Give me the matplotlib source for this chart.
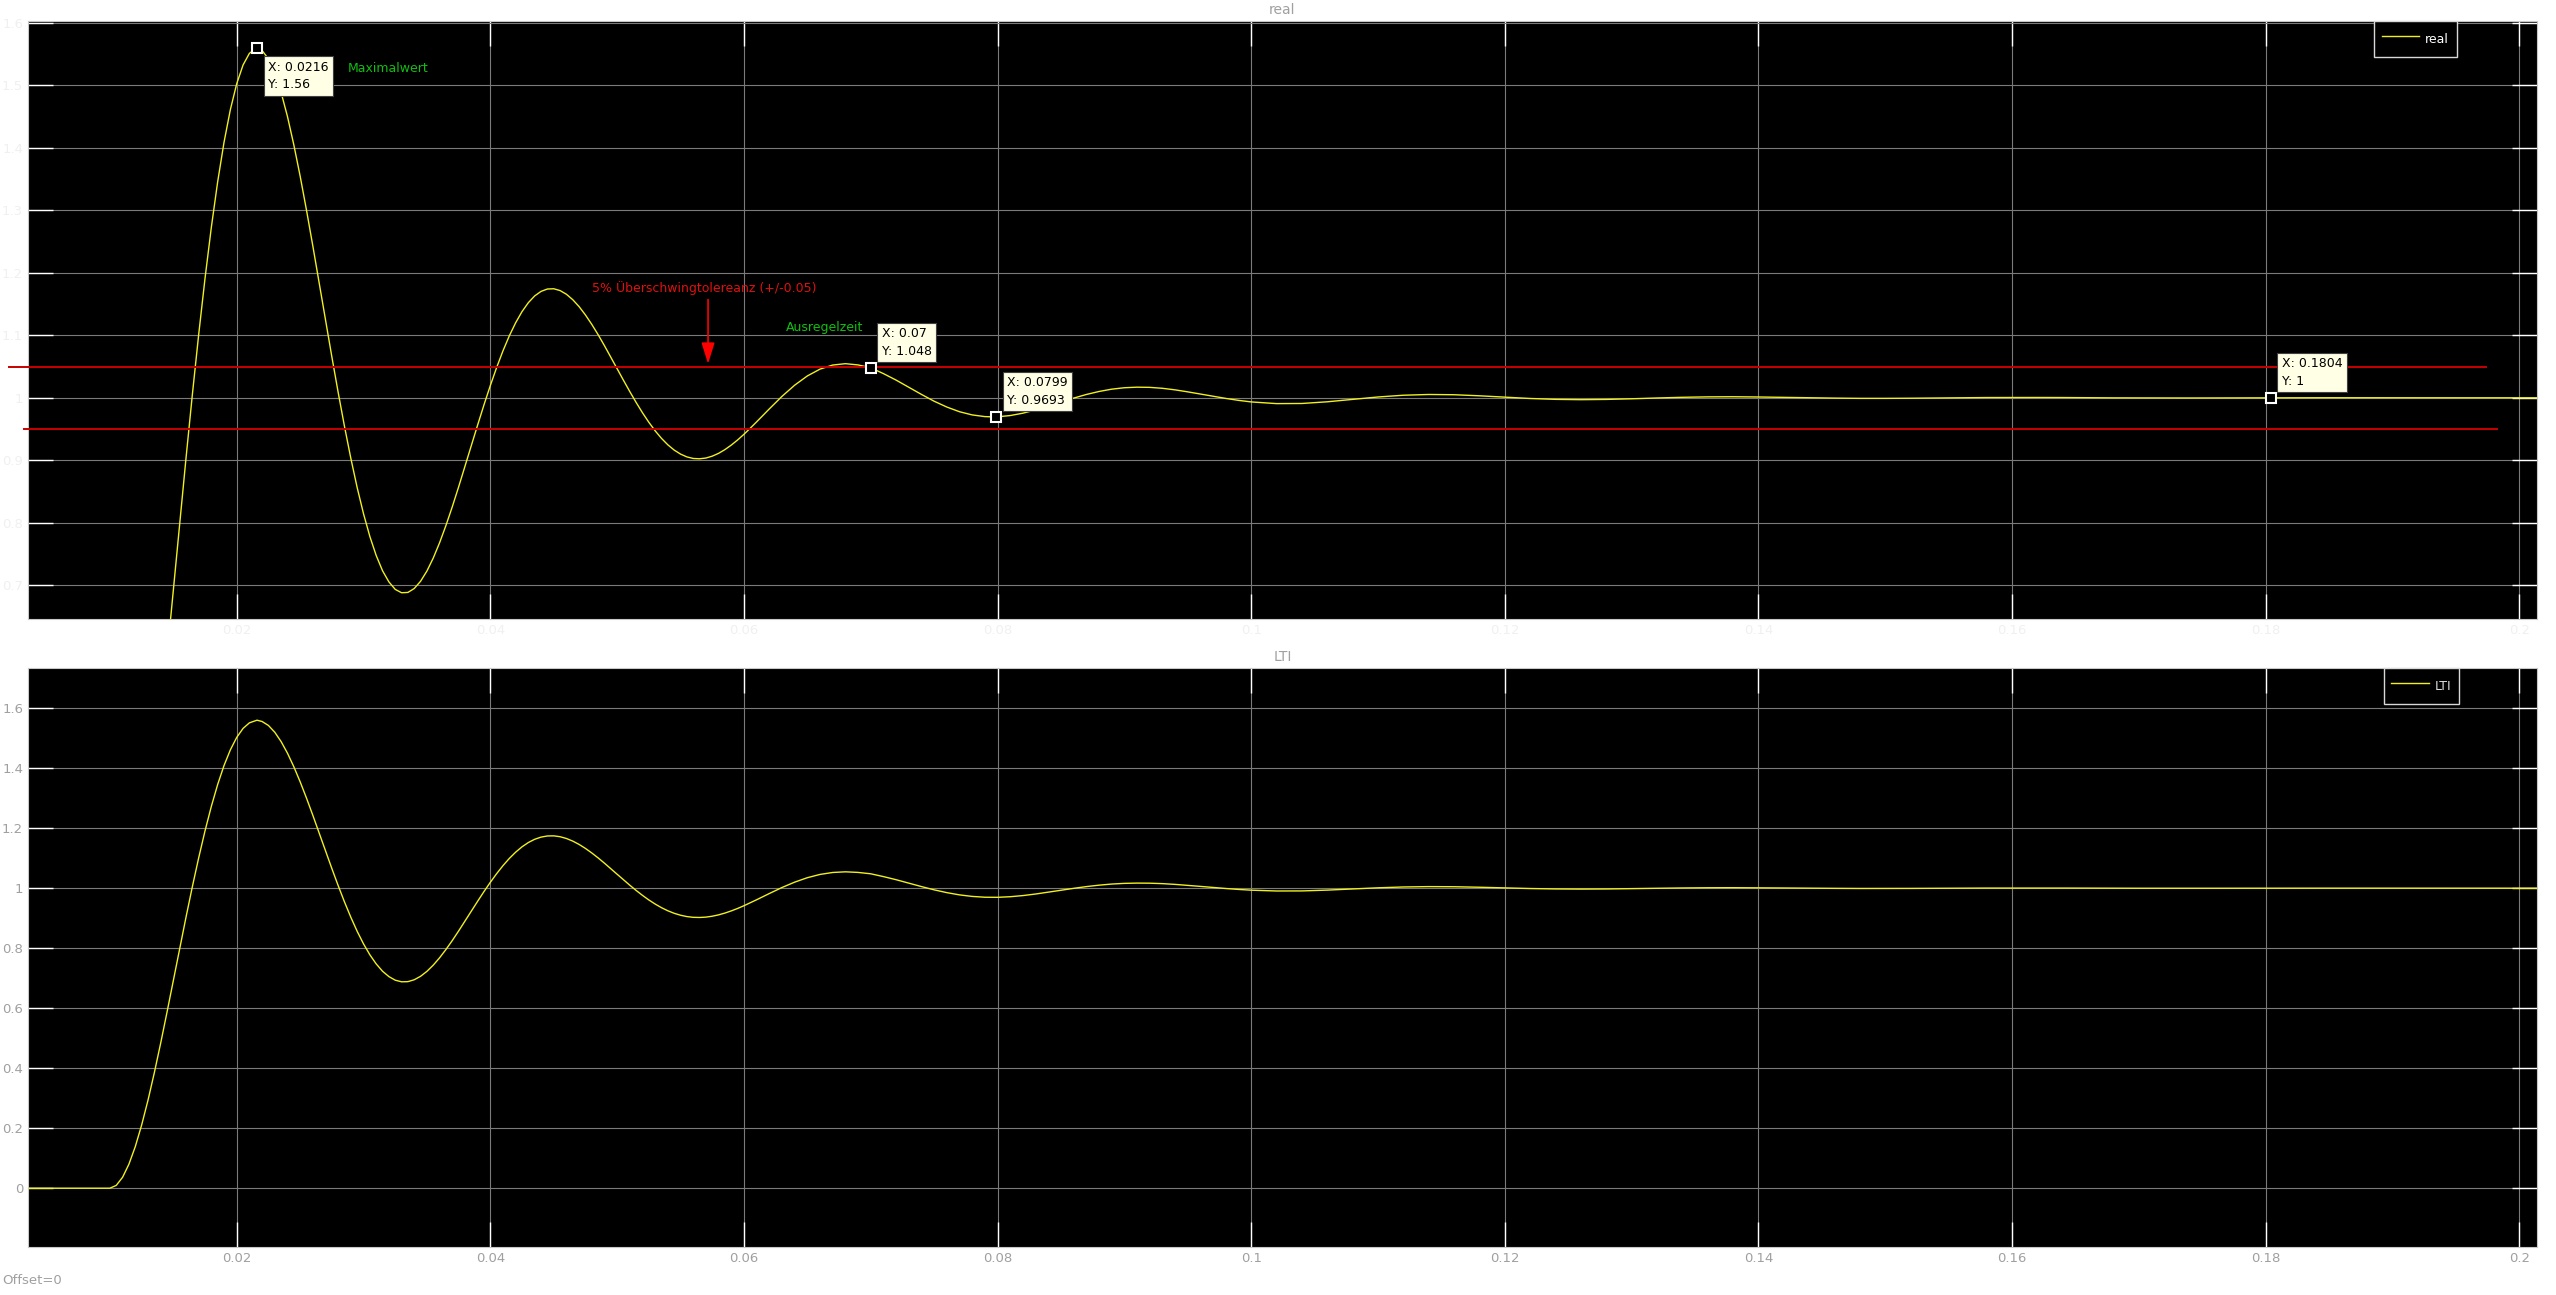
import matplotlib
matplotlib.use("Agg")
import matplotlib.pyplot as plt

# step response (both panels show the same signal)
t = [0.0,
     0.0100, 0.0105, 0.0110, 0.0115, 0.0120, 0.0125, 0.0130, 0.0135, 0.0140, 0.0145,
     0.0150, 0.0155, 0.0160, 0.0165, 0.0170, 0.0175, 0.0180, 0.0185, 0.0190, 0.0195,
     0.0200, 0.0205, 0.0210, 0.0215, 0.0216, 0.0220, 0.0225, 0.0230, 0.0235, 0.0240, 0.0245,
     0.0250, 0.0255, 0.0260, 0.0265, 0.0270, 0.0275, 0.0280, 0.0285, 0.0290, 0.0295,
     0.0300, 0.0305, 0.0310, 0.0315, 0.0320, 0.0325, 0.0330, 0.0335, 0.0340, 0.0345,
     0.0350, 0.0355, 0.0360, 0.0365, 0.0370, 0.0375, 0.0380, 0.0385, 0.0390, 0.0395,
     0.0400, 0.0405, 0.0410, 0.0415, 0.0420, 0.0425, 0.0430, 0.0435, 0.0440, 0.0445,
     0.0450, 0.0455, 0.0460, 0.0465, 0.0470, 0.0475, 0.0480, 0.0485, 0.0490, 0.0495,
     0.0500, 0.0505, 0.0510, 0.0515, 0.0520, 0.0525, 0.0530, 0.0535, 0.0540, 0.0545,
     0.0550, 0.0555, 0.0560, 0.0565, 0.0570, 0.0575, 0.0580, 0.0585, 0.0590, 0.0595,
     0.0600, 0.0605, 0.061, 0.062, 0.063, 0.064, 0.065, 0.066, 0.067, 0.068, 0.069,
     0.070, 0.071, 0.072, 0.073, 0.074, 0.075, 0.076, 0.077, 0.078, 0.079, 0.0799,
     0.080, 0.081, 0.082, 0.083, 0.084, 0.085, 0.086, 0.087, 0.088, 0.089,
     0.090, 0.091, 0.092, 0.093, 0.094, 0.095, 0.096, 0.097, 0.098, 0.099,
     0.100, 0.102, 0.104, 0.106, 0.108, 0.110, 0.112, 0.114, 0.116, 0.118,
     0.120, 0.122, 0.124, 0.126, 0.128, 0.130, 0.132, 0.134, 0.136, 0.138,
     0.140, 0.142, 0.144, 0.146, 0.148, 0.150, 0.152, 0.154, 0.156, 0.158,
     0.160, 0.162, 0.164, 0.166, 0.168, 0.170, 0.172, 0.174, 0.176, 0.178,
     0.180, 0.185, 0.190, 0.195, 0.205]
y_step = [0.0,
          0.0000, 0.0093, 0.0364, 0.0801, 0.1385, 0.2101, 0.2926, 0.3843, 0.4828, 0.5860,
          0.6919, 0.7983, 0.9031, 1.0047, 1.1011, 1.1911, 1.2730, 1.3460, 1.4090, 1.4613,
          1.5026, 1.5326, 1.5512, 1.5588, 1.5600, 1.5557, 1.5425, 1.5199, 1.4888, 1.4503, 1.4052,
          1.3550, 1.3006, 1.2433, 1.1843, 1.1248, 1.0659, 1.0087, 0.9541, 0.9031, 0.8562,
          0.8144, 0.7780, 0.7476, 0.7232, 0.7054, 0.6934, 0.6880, 0.6885, 0.6948, 0.7064,
          0.7228, 0.7436, 0.7681, 0.7957, 0.8256, 0.8574, 0.8902, 0.9235, 0.9565, 0.9888,
          1.0196, 1.0486, 1.0753, 1.0993, 1.1202, 1.1380, 1.1523, 1.1631, 1.1703, 1.1741,
          1.1745, 1.1716, 1.1657, 1.1570, 1.1459, 1.1326, 1.1175, 1.1010, 1.0834, 1.0651,
          1.0465, 1.0280, 1.0099, 0.9925, 0.9760, 0.9608, 0.9471, 0.9350, 0.9247, 0.9163,
          0.9099, 0.9054, 0.9029, 0.9024, 0.9036, 0.9066, 0.9111, 0.9171, 0.9243, 0.9325,
          0.9416, 0.9514, 0.9615, 0.9822, 1.0023, 1.0202, 1.0350, 1.0459, 1.0524, 1.0546, 1.0526,
          1.0480, 1.0387, 1.0283, 1.0169, 1.0054, 0.9945, 0.9852, 0.9777, 0.9726, 0.9699, 0.9693,
          0.9696, 0.9716, 0.9754, 0.9806, 0.9867, 0.9931, 0.9995, 1.0053, 1.0101, 1.0138,
          1.0161, 1.0170, 1.0167, 1.0152, 1.0127, 1.0095, 1.0060, 1.0024, 0.9990, 0.9959,
          0.9934, 0.9907, 0.9909, 0.9936, 0.9974, 1.0013, 1.0041, 1.0053, 1.0049, 1.0032,
          1.0010, 0.9989, 0.9975, 0.9970, 0.9974, 0.9984, 0.9997, 1.0008, 1.0015, 1.0017,
          1.0013, 1.0007, 1.0000, 0.9995, 0.9991, 0.9991, 0.9993, 0.9997, 1.0001, 1.0004,
          1.0005, 1.0005, 1.0004, 1.0001, 0.9999, 0.9998, 0.9997, 0.9997, 0.9998, 0.9999,
          1.0001, 1.0001, 1.0000, 1.0000, 1.0000]

# data tips
tip_x = [0.0216, 0.07, 0.0799, 0.1804]
tip_y = [1.56, 1.048, 0.9693, 1.0]
tip_labels = ["X: 0.0216\nY: 1.56", "X: 0.07\nY: 1.048",
              "X: 0.0799\nY: 0.9693", "X: 0.1804\nY: 1"]

# +/-5% tolerance band lines (drawn as annotation lines)
tol_levels = [1.05, 0.95]
tol_x_start = [0.00205, 0.00323]
tol_x_end = [0.19736, 0.19822]

xticks = [0.02, 0.04, 0.06, 0.08, 0.1, 0.12, 0.14, 0.16, 0.18, 0.2]
xtick_labels = ['0.02', '0.04', '0.06', '0.08', '0.1', '0.12', '0.14', '0.16', '0.18', '0.2']
yticks_real = [0.7, 0.8, 0.9, 1.0, 1.1, 1.2, 1.3, 1.4, 1.5, 1.6]
ytick_labels_real = ['0.7', '0.8', '0.9', '1', '1.1', '1.2', '1.3', '1.4', '1.5', '1.6']
yticks_lti = [0, 0.2, 0.4, 0.6, 0.8, 1.0, 1.2, 1.4, 1.6]
ytick_labels_lti = ['0', '0.2', '0.4', '0.6', '0.8', '1', '1.2', '1.4', '1.6']

LINE = '#f0f020'

fig = plt.figure(figsize=(25.56, 12.95), dpi=100)
fig.patch.set_facecolor('white')
ax1 = fig.add_axes([0.01095, 0.52201, 0.98162, 0.46177])
ax2 = fig.add_axes([0.01095, 0.03707, 0.98162, 0.44710])


def scope_style(ax, label_color):
    ax.set_facecolor('black')
    ax.grid(True, color='#7a7a7a', linewidth=0.8)
    ax.tick_params(direction='in', length=18, width=1, color='white',
                   top=True, right=True, labelsize=9.5, labelcolor=label_color)
    for s in ax.spines.values():
        s.set_color('#c8c8c8')
    ax.set_xlim(0.00354, 0.2014)
    ax.set_xticks(xticks)
    ax.set_xticklabels(xtick_labels)


def scope_legend(ax, right, text_color):
    ax.legend(loc='upper right', bbox_to_anchor=(right, 1.0), borderaxespad=0,
              facecolor='black', edgecolor='#d8d8d8', framealpha=1, fancybox=False,
              fontsize=9, handlelength=3.0, handleheight=2.2, handletextpad=0.5,
              borderpad=0.6, labelcolor=text_color)


# ---- top panel: real
scope_style(ax1, '#f0f0f0')
ax1.plot(t, y_step, color=LINE, lw=1.0, label='real')
ax1.set_ylim(0.646, 1.603)
ax1.set_yticks(yticks_real)
ax1.set_yticklabels(ytick_labels_real)
ax1.set_title('real', color='#a0a0a0', fontsize=10, pad=5)

for lvl, xs, xe in zip(tol_levels, tol_x_start, tol_x_end):
    ax1.plot([xs, xe], [lvl, lvl], color='#c80000', lw=1.4, clip_on=False, zorder=3)

ax1.plot(tip_x, tip_y, 's', ms=7, mfc='black', mec='white', mew=1.5, zorder=6)
for i, (x, yv, lab) in enumerate(zip(tip_x, tip_y, tip_labels)):
    if i == 0:
        off, va = (11, -13), 'top'
    else:
        off, va = (11, 10), 'bottom'
    ax1.annotate(lab, (x, yv), xytext=off, textcoords='offset pixels',
                 ha='left', va=va, fontsize=9, color='black', linespacing=1.45,
                 bbox=dict(boxstyle='square,pad=0.35', fc='#ffffe6', ec='#404040', lw=0.8),
                 zorder=7)

ax1.text(0.02878, 1.527, 'Maximalwert', color='#10c010', fontsize=9, va='center')
ax1.text(0.06332, 1.1117, 'Ausregelzeit', color='#10c010', fontsize=9, va='center')
ax1.text(0.04802, 1.176, '5% Überschwingtolereanz (+/-0.05)', color='#e01010',
         fontsize=9, va='center')
ax1.annotate('', xy=(0.05717, 1.05), xytext=(0.05717, 1.1616),
             arrowprops=dict(arrowstyle='-|>,head_length=0.8,head_width=0.25',
                             color='red', lw=1.2, mutation_scale=16), zorder=5)

scope_legend(ax1, 0.968, 'white')

# ---- bottom panel: LTI
scope_style(ax2, '#a0a0a0')
ax2.plot(t, y_step, color=LINE, lw=1.0, label='LTI')
ax2.set_ylim(-0.196, 1.734)
ax2.set_yticks(yticks_lti)
ax2.set_yticklabels(ytick_labels_lti)
ax2.set_title('LTI', color='#a0a0a0', fontsize=10, pad=5)
scope_legend(ax2, 0.969, '#dddddd')

fig.text(0.001, 1 - 1281 / 1295, 'Offset=0', color='#a0a0a0', fontsize=9.5, va='center')

fig.savefig('out.png', dpi=100, facecolor='white')
